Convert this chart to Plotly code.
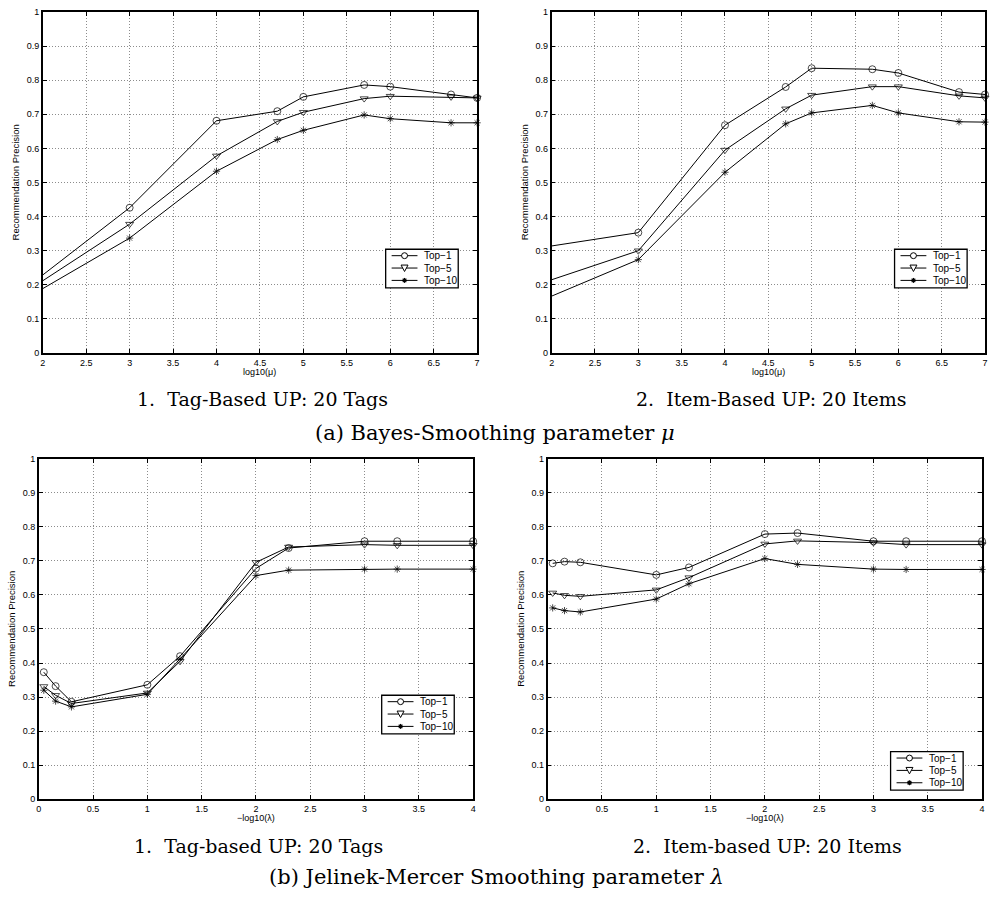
import plotly.graph_objects as go

# ---------------- data ----------------
mu_x = [2, 3, 4, 4.7, 5, 5.7, 6, 6.7, 7]
tag_mu_top1 = [0.229, 0.426, 0.681, 0.709, 0.751, 0.786, 0.781, 0.758, 0.748]
tag_mu_top5 = [0.212, 0.378, 0.578, 0.679, 0.706, 0.746, 0.753, 0.751, 0.748]
tag_mu_top10 = [0.189, 0.337, 0.533, 0.626, 0.653, 0.698, 0.687, 0.675, 0.675]

item_mu_top1 = [0.314, 0.353, 0.668, 0.780, 0.835, 0.832, 0.821, 0.765, 0.758]
item_mu_top5 = [0.215, 0.300, 0.595, 0.716, 0.756, 0.781, 0.781, 0.754, 0.748]
item_mu_top10 = [0.167, 0.274, 0.530, 0.672, 0.704, 0.726, 0.704, 0.678, 0.677]

lam_x = [0.046, 0.155, 0.301, 1, 1.301, 2, 2.301, 3, 3.301, 4]
tag_lam_top1 = [0.373, 0.332, 0.286, 0.336, 0.420, 0.678, 0.738, 0.758, 0.758, 0.758]
tag_lam_top5 = [0.331, 0.305, 0.281, 0.312, 0.405, 0.696, 0.741, 0.748, 0.746, 0.746]
tag_lam_top10 = [0.320, 0.288, 0.271, 0.308, 0.412, 0.657, 0.673, 0.676, 0.676, 0.676]

item_lam_top1 = [0.693, 0.698, 0.696, 0.659, 0.681, 0.779, 0.782, 0.758, 0.758, 0.758]
item_lam_top5 = [0.606, 0.599, 0.596, 0.615, 0.651, 0.750, 0.759, 0.754, 0.748, 0.748]
item_lam_top10 = [0.562, 0.554, 0.550, 0.588, 0.633, 0.707, 0.690, 0.676, 0.675, 0.675]

series_names = ["Top\u22121", "Top\u22125", "Top\u221210"]
symbols = ["circle-open", "triangle-down-open", "asterisk-open"]

captions = ["1.  Tag-Based UP: 20 Tags", "2.  Item-Based UP: 20 Items",
            "1.  Tag-based UP: 20 Tags", "2.  Item-based UP: 20 Items"]
group_a = "(a) Bayes-Smoothing parameter <i>\u03bc</i>"
group_b = "(b) Jelinek-Mercer Smoothing parameter <i>\u03bb</i>"
xtitle_mu = "log10(\u03bc)"
xtitle_lam = "\u2212log10(\u03bb)"
ytitle = "Recommendation Precision"

W, H = 990, 900
# panel pixel boxes: (x0, x1, ytop, ybottom)
boxes = [(40, 477, 7, 352), (552, 988, 7, 352), (36, 473, 459, 803), (548, 985, 459, 803)]
legend_pos = [(385, 247), (897, 247), (381, 698), (893, 755)]  # top-left of legend box
LEG_W, LEG_H = 73, 39

panels = [
    (mu_x, [tag_mu_top1, tag_mu_top5, tag_mu_top10], [2, 7], xtitle_mu, True),
    (mu_x, [item_mu_top1, item_mu_top5, item_mu_top10], [2, 7], xtitle_mu, True),
    (lam_x, [tag_lam_top1, tag_lam_top5, tag_lam_top10], [0, 4], xtitle_lam, False),
    (lam_x, [item_lam_top1, item_lam_top5, item_lam_top10], [0, 4], xtitle_lam, False),
]


def px(x):
    return x / W


def py(y):
    return 1 - y / H


fig = go.Figure()
layout = dict(width=W, height=H, margin=dict(l=0, r=0, t=0, b=0),
              paper_bgcolor="white", plot_bgcolor="white", showlegend=False,
              font=dict(family="Liberation Sans, Arial", color="black", size=9))
annotations = []
shapes = []
sans = "Liberation Sans, Arial"
serif = "DejaVu Serif, serif"


def note(text, x, y, size, family, xanchor="center", angle=0):
    annotations.append(dict(text=text, x=px(x), y=py(y), xref="paper", yref="paper",
                            xanchor=xanchor, yanchor="middle", showarrow=False,
                            textangle=angle, font=dict(size=size, family=family)))


for i, (xs, ys_list, xr, xt, hide_first) in enumerate(panels):
    k = "" if i == 0 else str(i + 1)
    x0, x1, yt, yb = boxes[i]
    for j, ys in enumerate(ys_list):
        base = 6 if j == 2 else 7
        sizes = [base] * len(xs)
        if hide_first:
            sizes[0] = 0
        fig.add_trace(go.Scatter(
            x=xs, y=ys, mode="lines+markers", name=series_names[j],
            xaxis="x" + k, yaxis="y" + k, cliponaxis=False,
            line=dict(color="black", width=1),
            marker=dict(symbol=symbols[j], size=sizes, color="black",
                        line=dict(color="black", width=1)),
        ))
    axcommon = dict(showline=True, linecolor="black", linewidth=1.5, mirror="ticks",
                    ticks="inside", ticklen=4, tickcolor="black", tickwidth=1,
                    showgrid=True, gridcolor="#8c8c8c", griddash="1px,2px", gridwidth=1,
                    zeroline=False, ticklabeloverflow="allow",
                    tickfont=dict(size=9, family=sans))
    layout["xaxis" + k] = dict(domain=[px(x0), px(x1)], range=xr, dtick=0.5, tick0=0,
                               anchor="y" + k, **axcommon)
    layout["yaxis" + k] = dict(domain=[py(yb), py(yt)], range=[0, 1], dtick=0.1,
                               anchor="x" + k, **axcommon)

    # ---- custom legend (MATLAB style compact box) ----
    lx, ly = legend_pos[i]
    shapes.append(dict(type="rect", xref="paper", yref="paper",
                       x0=px(lx), x1=px(lx + LEG_W), y0=py(ly + LEG_H), y1=py(ly),
                       line=dict(color="black", width=1.3), fillcolor="white", layer="above"))
    for j in range(3):
        cy = ly + 6.5 + 12.5 * j
        shapes.append(dict(type="line", xref="paper", yref="paper",
                           x0=px(lx + 6), x1=px(lx + 32), y0=py(cy), y1=py(cy),
                           line=dict(color="black", width=1), layer="above"))
        mx = lx + 19
        if j == 0:
            r = 3
            shapes.append(dict(type="circle", xref="paper", yref="paper",
                               x0=px(mx - r), x1=px(mx + r), y0=py(cy + r), y1=py(cy - r),
                               line=dict(color="black", width=1), fillcolor="white",
                               layer="above"))
        elif j == 1:
            path = "M {a},{b} L {c},{b} L {d},{e} Z".format(
                a=px(mx - 3.5), b=py(cy - 3), c=px(mx + 3.5), d=px(mx), e=py(cy + 3.5))
            shapes.append(dict(type="path", xref="paper", yref="paper", path=path,
                               line=dict(color="black", width=1), fillcolor="white",
                               layer="above"))
        else:
            r = 2.5
            for dx, dy in [(r, 0), (0, r), (r * 0.72, r * 0.72), (r * 0.72, -r * 0.72)]:
                shapes.append(dict(type="line", xref="paper", yref="paper",
                                   x0=px(mx - dx), x1=px(mx + dx), y0=py(cy - dy),
                                   y1=py(cy + dy), line=dict(color="black", width=1.2),
                                   layer="above"))
        note(series_names[j], lx + 37, cy, 10, sans, xanchor="left")

    # axis titles
    note(xt, (x0 + x1) / 2, yb + 19, 9, sans)
    note(ytitle, x0 - 27, (yt + yb) / 2, 9.5, sans, angle=-90)
    # captions
    note(captions[i], (x0 + x1) / 2 + 3, 398 if i < 2 else 850, 19, serif)

note(group_a, 495, 433, 21, serif)
note(group_b, 497, 882, 21, serif)
layout["annotations"] = annotations
layout["shapes"] = shapes
fig.update_layout(**layout)
fig.write_html("out.html", config={"displayModeBar": False},
               post_script="document.body.style.margin='0';document.body.style.overflow='hidden';")
